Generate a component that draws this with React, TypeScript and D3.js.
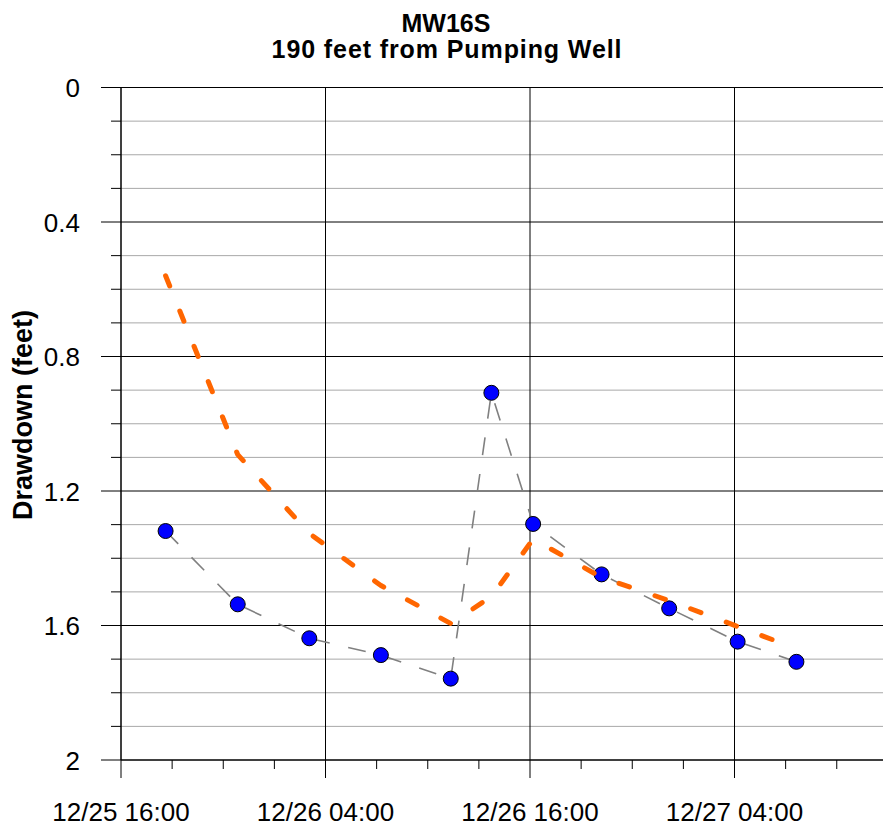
import React from "react";
import * as d3 from "d3";

// Observation times (12/25 – 12/27) and measured drawdown at MW16S
const obsTimes: string[] = [
  "12/25 18:37", "12/25 22:51", "12/26 03:03", "12/26 07:15", "12/26 11:21",
  "12/26 13:44", "12/26 16:11", "12/26 20:12", "12/27 00:10", "12/27 04:11", "12/27 07:38",
];
const observedDrawdown: number[] = [
  1.319, 1.537, 1.638, 1.688, 1.758, 0.908, 1.298, 1.448, 1.549, 1.648, 1.708,
];
// Corrected / calculated drawdown at the same times
const correctedDrawdown: number[] = [
  0.56, 1.092, 1.326, 1.481, 1.594, 1.514, 1.343, 1.457, 1.526, 1.603, 1.669,
];
const yMajorTicks: number[] = [0, 0.4, 0.8, 1.2, 1.6, 2];
const xLabelTimes: string[] = ["12/25 16:00", "12/26 04:00", "12/26 16:00", "12/27 04:00"];

const YEAR = 2007;
const parseTime = (s: string): Date => {
  const [md, hm] = s.split(" ");
  const [mo, da] = md.split("/").map(Number);
  const [h, mi] = hm.split(":").map(Number);
  return new Date(YEAR, mo - 1, da, h, mi);
};

const W = 883;
const H = 829;
const left = 121;
const top = 87.5;
const bottom = 760;
const pxPer12h = 204.5;

export default function App() {
  const t0 = parseTime("12/25 16:00");
  const t1 = parseTime("12/27 16:00");
  const x = d3.scaleTime().domain([t0, t1]).range([left, left + pxPer12h * 4]);
  const y = d3.scaleLinear().domain([0, 2]).range([top, bottom]);

  const minorY = d3.range(0, 20).map((i) => i / 10).filter((v) => Math.round(v * 10) % 4 !== 0);
  // tick marks every 3 hours, counted from the 16:00 origin
  const hourTicks = d3.range(0, 17).map((i) => d3.timeHour.offset(t0, i * 3));
  const majorX = xLabelTimes.map(parseTime);
  const fmt = d3.timeFormat("%m/%d %H:%M");

  const obs = obsTimes.map((t, i) => ({ t: parseTime(t), v: observedDrawdown[i] }));
  const cor = obsTimes.map((t, i) => ({ t: parseTime(t), v: correctedDrawdown[i] }));
  const line = d3
    .line<{ t: Date; v: number }>()
    .x((d) => x(d.t))
    .y((d) => y(d.v));

  const font = "Arial, 'Liberation Sans', sans-serif";

  return (
    <svg
      width={W}
      height={H}
      style={{ position: "absolute", left: 0, top: 0, background: "#fff" }}
      fontFamily={font}
    >
      {/* title */}
      <text x={446} y={32} textAnchor="middle" fontSize={25} fontWeight="bold">
        MW16S
      </text>
      <text x={447} y={58} textAnchor="middle" fontSize={25} fontWeight="bold" letterSpacing={0.9}>
        190 feet from Pumping Well
      </text>

      {/* minor horizontal gridlines */}
      {minorY.map((v) => (
        <g key={"mn" + v}>
          <line x1={left} x2={W} y1={y(v)} y2={y(v)} stroke="#a8a8a8" strokeWidth={1} />
          <line x1={left - 10} x2={left} y1={y(v)} y2={y(v)} stroke="#000" strokeWidth={1} />
        </g>
      ))}
      {/* major horizontal gridlines and y labels */}
      {yMajorTicks.map((v) => (
        <g key={"mj" + v}>
          <line x1={left - 20} x2={W} y1={y(v)} y2={y(v)} stroke="#000" strokeWidth={1} />
          <text x={80} y={y(v) + 9.5} textAnchor="end" fontSize={26}>
            {v}
          </text>
        </g>
      ))}
      {/* vertical gridlines */}
      {majorX.map((d) => (
        <line key={"vx" + d.getTime()} x1={x(d)} x2={x(d)} y1={top} y2={bottom} stroke="#000" strokeWidth={1} />
      ))}
      {/* x ticks */}
      {hourTicks.map((d) => {
        const isMajor = majorX.some((m) => m.getTime() === d.getTime());
        return (
          <line
            key={"xt" + d.getTime()}
            x1={x(d)}
            x2={x(d)}
            y1={bottom}
            y2={bottom + (isMajor ? 18 : 9)}
            stroke="#000"
            strokeWidth={1}
          />
        );
      })}
      {majorX.map((d) => (
        <text key={"xl" + d.getTime()} x={x(d)} y={821} textAnchor="middle" fontSize={26}>
          {fmt(d)}
        </text>
      ))}
      {/* axes */}
      <line x1={left} x2={left} y1={top} y2={bottom} stroke="#000" strokeWidth={1} />
      <line x1={left} x2={W} y1={bottom} y2={bottom} stroke="#000" strokeWidth={1} />

      {/* y axis title */}
      <text
        transform={`translate(32,415) rotate(-90)`}
        textAnchor="middle"
        fontSize={27}
        fontWeight="bold"
      >
        Drawdown (feet)
      </text>

      {/* observed series */}
      <path d={line(obs) || ""} fill="none" stroke="#808080" strokeWidth={1.6} strokeDasharray="18 19" />
      {obs.map((d, i) => (
        <circle key={"pt" + i} cx={x(d.t)} cy={y(d.v)} r={7.5} fill="#0000ff" stroke="#000" strokeWidth={1} />
      ))}

      {/* corrected series */}
      <path
        d={line(cor) || ""}
        fill="none"
        stroke="#ff6600"
        strokeWidth={5}
        strokeDasharray="11 27"
        strokeLinecap="round"
        strokeLinejoin="round"
      />
    </svg>
  );
}
